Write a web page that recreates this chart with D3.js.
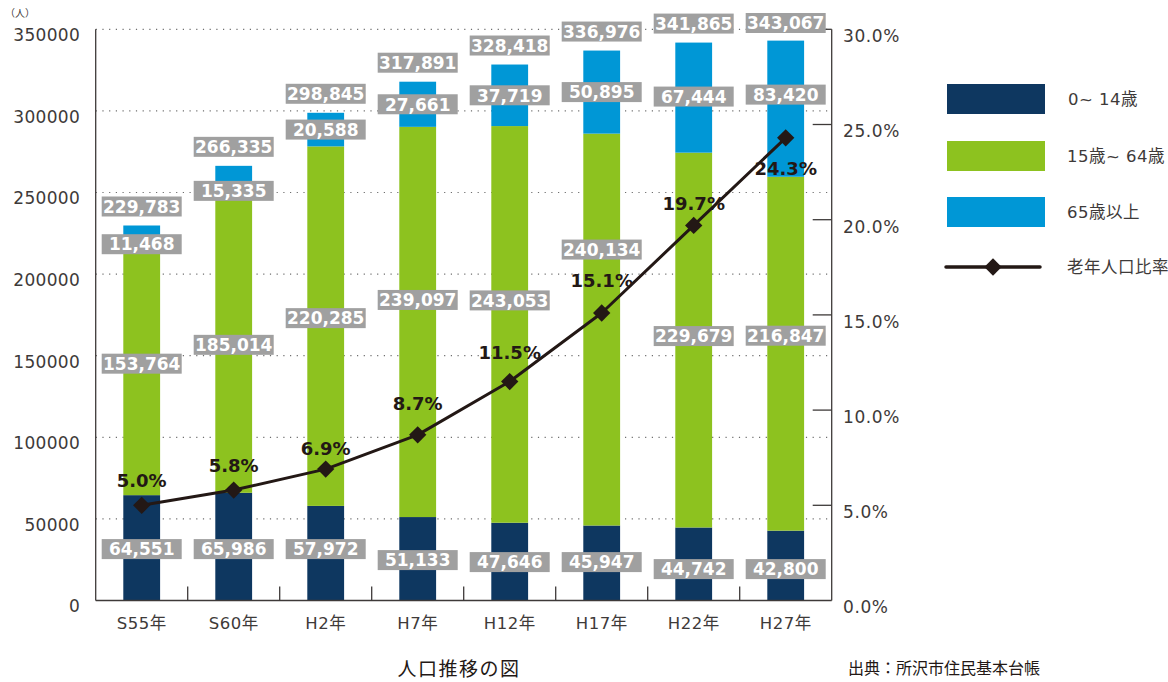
<!DOCTYPE html>
<html>
<head>
<meta charset="utf-8">
<script src="https://cdn.jsdelivr.net/npm/d3@7"></script>
<style>
  html, body { margin: 0; padding: 0; background: #ffffff; }
  svg { display: block; }
  text { font-family: "DejaVu Sans", "Noto Sans CJK JP", sans-serif; }
</style>
</head>
<body>
<svg id="chart" width="1168" height="682"></svg>
<script>
// ---------------- data ----------------
const categories = ["S55年", "S60年", "H2年", "H7年", "H12年", "H17年", "H22年", "H27年"];
const age0to14  = [64551, 65986, 57972, 51133, 47646, 45947, 44742, 42800];
const age15to64 = [153764, 185014, 220285, 239097, 243053, 240134, 229679, 216847];
const age65plus = [11468, 15335, 20588, 27661, 37719, 50895, 67444, 83420];
const totals    = [229783, 266335, 298845, 317891, 328418, 336976, 341865, 343067];
const elderlyRatio = [5.0, 5.8, 6.9, 8.7, 11.5, 15.1, 19.7, 24.3];
const leftTicks  = [0, 50000, 100000, 150000, 200000, 250000, 300000, 350000];
const rightTicks = [0, 5, 10, 15, 20, 25, 30];
const seriesNames = ["0~ 14歳", "15歳~ 64歳", "65歳以上"];
const lineName = "老年人口比率";
const unitLabel = "（人）";
const titleText = "人口推移の図";
const sourceText = "出典：所沢市住民基本台帳";

// ---------------- layout (pixels, not data) ----------------
const plot = { left: 95.7, right: 831.7, top: 29.3, bottom: 600.5 };
const colors = { young: "#0e3760", work: "#8dc21f", old: "#0097d6", line: "#231815",
                 box: "#a0a0a0", axis: "#3e3a39", grid: "#6e6e6e", text: "#3e3a39" };
const boxW = 80, boxH = 20;
// hand-placement nudges of the annotation boxes (pixels)
const youngLabelShift = [0, 0, 0, 11, 13, 13, 20, 20];
const workLabelShift  = [-6, 3, -8, -22, -24, -80, -4, -18];
const ratioLabelDy    = [-25, -25, -21, -31, -29, -32, -22, 31];

const svg = d3.select("#chart");

const x = d3.scaleBand().domain(categories)
  .range([plot.left, plot.right]).paddingInner(0.6).paddingOuter(0.3);
const step = x.step();
const y = d3.scaleLinear().domain([0, 350000]).range([plot.bottom, plot.top]);
const yr = d3.scaleLinear().domain([0, 30]).range([plot.bottom, plot.top]);

// gridlines
svg.append("g").selectAll("line").data(leftTicks.filter(d => d > 0)).join("line")
  .attr("x1", plot.left).attr("x2", plot.right)
  .attr("y1", d => y(d)).attr("y2", d => y(d))
  .attr("stroke", colors.grid).attr("stroke-width", 1.2)
  .attr("stroke-dasharray", "1.2,5.5");

// stacked bars
const rows = categories.map((c, i) => ({ c, i, a: age0to14[i], b: age15to64[i], o: age65plus[i] }));
const stack = d3.stack().keys(["a", "b", "o"])(rows);
const fills = [colors.young, colors.work, colors.old];
stack.forEach((layer, k) => {
  svg.append("g").selectAll("rect").data(layer).join("rect")
    .attr("x", d => x(d.data.c))
    .attr("width", x.bandwidth())
    .attr("y", d => y(d[1]))
    .attr("height", d => y(d[0]) - y(d[1]))
    .attr("fill", fills[k]);
});

// axes lines
const ax = svg.append("g").attr("stroke", colors.axis).attr("stroke-width", 1.3).attr("fill", "none");
ax.append("line").attr("x1", plot.left).attr("x2", plot.left).attr("y1", plot.top).attr("y2", plot.bottom);
ax.append("line").attr("x1", plot.right).attr("x2", plot.right).attr("y1", plot.top).attr("y2", plot.bottom);
ax.append("line").attr("x1", plot.left).attr("x2", plot.right).attr("y1", plot.bottom).attr("y2", plot.bottom);
// category boundary ticks
ax.selectAll(null).data(d3.range(1, categories.length)).join("line")
  .attr("x1", i => plot.left + i * step).attr("x2", i => plot.left + i * step)
  .attr("y1", plot.bottom).attr("y2", plot.bottom - 14);
// right axis ticks
ax.selectAll(null).data(rightTicks.filter(d => d > 0)).join("line")
  .attr("x1", plot.right).attr("x2", d => d === 30 ? plot.right - 8 : plot.right - 19)
  .attr("y1", d => yr(d)).attr("y2", d => yr(d));

// left tick labels
svg.append("g").selectAll("text").data(leftTicks).join("text")
  .attr("x", 80).attr("y", d => y(d) + 6).attr("dy", "0.35em")
  .attr("text-anchor", "end").attr("font-size", 17).attr("fill", colors.text)
  .attr("letter-spacing", 0.3)
  .text(d => d);
// right tick labels
svg.append("g").selectAll("text").data(rightTicks).join("text")
  .attr("x", 843).attr("y", d => yr(d) + 7).attr("dy", "0.35em")
  .attr("text-anchor", "start").attr("font-size", 17).attr("fill", colors.text)
  .attr("letter-spacing", 0.6)
  .text(d => d3.format(".1f")(d) + "%");
// x labels
svg.append("g").selectAll("text").data(categories).join("text")
  .attr("x", d => x(d) + x.bandwidth() / 2).attr("y", 623).attr("dy", "0.35em")
  .attr("text-anchor", "middle").attr("font-size", 16.5).attr("fill", colors.text)
  .attr("letter-spacing", 0.5)
  .text(d => d);
// unit label
svg.append("text").attr("x", 20).attr("y", 13).attr("dy", "0.35em")
  .attr("text-anchor", "middle").attr("font-size", 10).attr("fill", colors.text)
  .text(unitLabel);

// value boxes
function box(g, cx, cy, value) {
  g.append("rect").attr("x", cx - boxW / 2).attr("y", cy - boxH / 2)
    .attr("width", boxW).attr("height", boxH).attr("fill", colors.box);
  g.append("text").attr("x", cx).attr("y", cy).attr("dy", "0.37em")
    .attr("text-anchor", "middle").attr("font-size", 17).attr("font-weight", "bold")
    .attr("fill", "#ffffff").text(d3.format(",")(value));
}
const lab = svg.append("g");
categories.forEach((c, i) => {
  const cx = x(c) + x.bandwidth() / 2;
  const y1 = y(age0to14[i]);
  const y2 = y(age0to14[i] + age15to64[i]);
  const y3 = y(totals[i]);
  // total
  box(lab, cx, Math.max(y3 - 19, 23), totals[i]);
  // 65+
  const h = y2 - y3;
  const oldCy = h < 30 ? y2 : Math.min((y2 + y3) / 2, y3 + 54);
  box(lab, cx, oldCy, age65plus[i]);
  // 15-64
  box(lab, cx, (y1 + y2) / 2 + workLabelShift[i], age15to64[i]);
  // 0-14
  box(lab, cx, y(31500) + youngLabelShift[i], age0to14[i]);
});

// ratio line
const pts = categories.map((c, i) => [x(c) + x.bandwidth() / 2, yr(elderlyRatio[i])]);
svg.append("path").attr("d", d3.line()(pts))
  .attr("fill", "none").attr("stroke", colors.line).attr("stroke-width", 3)
  .attr("stroke-linejoin", "round");
const diamond = d3.symbol().type(d3.symbolSquare).size(150);
svg.append("g").selectAll("path").data(pts).join("path")
  .attr("d", diamond)
  .attr("transform", d => `translate(${d[0]},${d[1]}) rotate(45)`)
  .attr("fill", colors.line);
svg.append("g").selectAll("text").data(pts).join("text")
  .attr("x", d => d[0]).attr("y", (d, i) => d[1] + ratioLabelDy[i]).attr("dy", "0.36em")
  .attr("text-anchor", "middle").attr("font-size", 18).attr("font-weight", "bold")
  .attr("fill", colors.line)
  .text((d, i) => d3.format(".1f")(elderlyRatio[i]) + "%");

// legend
const lg = svg.append("g");
const legendY = [99, 156, 212];
seriesNames.forEach((n, k) => {
  lg.append("rect").attr("x", 947).attr("y", legendY[k] - 15).attr("width", 98).attr("height", 30)
    .attr("fill", fills[k]);
  lg.append("text").attr("x", k === 0 ? 1068 : 1067).attr("y", legendY[k]).attr("dy", "0.36em")
    .attr("font-size", 16.5).attr("fill", colors.text).attr("letter-spacing", 0.5).text(n);
});
lg.append("line").attr("x1", 946).attr("x2", 1040).attr("y1", 267).attr("y2", 267)
  .attr("stroke", colors.line).attr("stroke-width", 3.5).attr("stroke-linecap", "round");
lg.append("path").attr("d", diamond).attr("transform", "translate(993,267) rotate(45)")
  .attr("fill", colors.line);
lg.append("text").attr("x", 1067).attr("y", 267).attr("dy", "0.36em")
  .attr("font-size", 16.5).attr("fill", colors.text).attr("letter-spacing", 0.5).text(lineName);

// title and source
svg.append("text").attr("x", 459).attr("y", 669).attr("dy", "0.36em")
  .attr("text-anchor", "middle").attr("font-size", 19).attr("fill", "#231815")
  .attr("font-family", "Noto Sans CJK JP").attr("letter-spacing", 1.5).text(titleText);
svg.append("text").attr("x", 944).attr("y", 668).attr("dy", "0.36em")
  .attr("text-anchor", "middle").attr("font-size", 16).attr("fill", "#231815")
  .attr("font-family", "Noto Sans CJK JP").text(sourceText);
</script>
</body>
</html>
